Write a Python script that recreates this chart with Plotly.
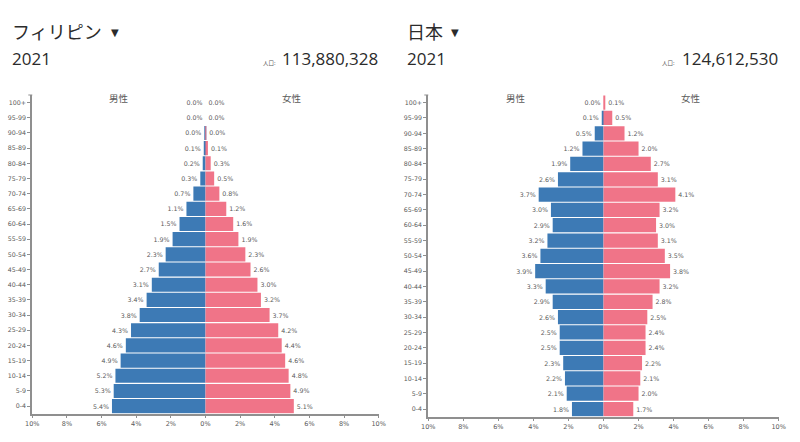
#piramides de poblacion filipinas / japon 2021
import plotly.graph_objs as go

edades = ["100+","95-99","90-94","85-89","80-84","75-79","70-74","65-69","60-64","55-59","50-54",
          "45-49","40-44","35-39","30-34","25-29","20-24","15-19","10-14","5-9","0-4"]

ph_hombres = [0.001,0.001,0.02,0.1,0.16,0.3,0.7,1.1,1.5,1.9,2.3,2.7,3.1,3.4,3.8,4.3,4.6,4.9,5.2,5.3,5.4]
ph_mujeres = [0.001,0.001,0.03,0.14,0.3,0.5,0.8,1.2,1.6,1.9,2.3,2.6,3.0,3.2,3.7,4.2,4.4,4.6,4.8,4.9,5.1]
jp_hombres = [0.001,0.1,0.5,1.2,1.9,2.6,3.7,3.0,2.9,3.2,3.6,3.9,3.3,2.9,2.6,2.5,2.5,2.3,2.2,2.1,1.8]
jp_mujeres = [0.1,0.5,1.2,2.0,2.7,3.1,4.1,3.2,3.0,3.1,3.5,3.8,3.2,2.8,2.5,2.4,2.4,2.2,2.1,2.0,1.7]

xticks = [-10,-8,-6,-4,-2,0,2,4,6,8,10]
xlabels = ["10%","8%","6%","4%","2%","0%","2%","4%","6%","8%","10%"]

AZUL = "#3d7ab5"
ROSA = "#f07488"
GRIS = "#8f8f8f"
TEXTO = "#5a5a5a"
OSCURO = "#2b2b2b"
W, H = 800, 442

def px(x): return x/W
def py(y): return 1-y/H

def barras(valores, signo, color, xa, ya):
  #las filas en 0.0% no dibujan barra, solo la etiqueta
  colores = [color if v >= 0.01 else "rgba(0,0,0,0)" for v in valores]
  return go.Bar(y=edades, x=[signo*v for v in valores], orientation="h", xaxis=xa, yaxis=ya,
    marker=dict(color=colores, line=dict(width=0)),
    text=["%.1f%%" % v for v in valores], textposition="outside", textangle=0,
    constraintext="none", cliponaxis=False, showlegend=False,
    textfont=dict(family="DejaVu Sans", size=6.3, color=TEXTO))

fig = go.Figure()
fig.add_trace(barras(ph_hombres, -1, AZUL, "x", "y"))
fig.add_trace(barras(ph_mujeres, 1, ROSA, "x", "y"))
fig.add_trace(barras(jp_hombres, -1, AZUL, "x2", "y2"))
fig.add_trace(barras(jp_mujeres, 1, ROSA, "x2", "y2"))

def eje_x(izq, der, ya):
  return dict(domain=[px(izq),px(der)], range=[-10,10], anchor=ya, tickvals=xticks, ticktext=xlabels,
    showgrid=False, zeroline=False, showline=True, linecolor=GRIS, linewidth=1.5,
    ticks="outside", ticklen=3, tickcolor=GRIS, tickfont=dict(family="DejaVu Sans", size=6.5, color=TEXTO))

def eje_y(arriba, abajo, xa):
  return dict(domain=[py(abajo),py(arriba)], anchor=xa, categoryorder="array", categoryarray=edades[::-1],
    range=[-0.5,20.5], showgrid=False, zeroline=False, showline=True, linecolor=GRIS, linewidth=2,
    ticks="outside", ticklen=3, tickcolor=GRIS, tickfont=dict(family="DejaVu Sans", size=6.3, color=TEXTO))

fig.update_layout(
  width=W, height=H, margin=dict(l=0,r=0,t=0,b=0), template="none",
  paper_bgcolor="white", plot_bgcolor="white", barmode="overlay", bargap=0.07,
  xaxis=eje_x(32.3,378.7,"y"), yaxis=eje_y(95,413.7,"x"),
  xaxis2=eje_x(428.3,778.7,"y2"), yaxis2=eje_y(95,416.7,"x2"))

def texto(x, y, t, size, family="Open Sans", color=OSCURO, anchor="left"):
  fig.add_annotation(xref="paper", yref="paper", x=px(x), y=py(y), text=t, showarrow=False,
    xanchor=anchor, yanchor="middle", font=dict(family=family, size=size, color=color))

CJK = "Noto Sans CJK JP"
texto(10, 31, "フィリピン", 18, CJK)
texto(109, 33, "▼", 10, "DejaVu Sans")
texto(10, 59, "2021", 17)
texto(278, 63.5, "人口:", 5.5, CJK, TEXTO, "right")
texto(379.5, 59, "113,880,328", 17, anchor="right")

texto(405, 31, "日本", 18, CJK)
texto(449, 33, "▼", 10, "DejaVu Sans")
texto(405, 59, "2021", 17)
texto(677, 63.5, "人口:", 5.5, CJK, TEXTO, "right")
texto(779.5, 59, "124,612,530", 17, anchor="right")

#etiquetas de sexo sobre cada piramide
for xa, ya in [("x","y"),("x2","y2")]:
  for x, t in [(-5,"男性"),(5,"女性")]:
    fig.add_annotation(xref=xa, yref=ya, x=x, y="100+", text=t, showarrow=False, yshift=5,
      font=dict(family=CJK, size=9.5, color=TEXTO))

#marca superior del eje de edades
for izq in [32.3, 428.3]:
  fig.add_shape(type="line", xref="paper", yref="paper", x0=px(izq-4), x1=px(izq), y0=py(95), y1=py(95),
    line=dict(color=GRIS, width=1))

fig.write_html("out.html", config={"displayModeBar": False},
  post_script="document.body.style.margin='0';document.body.style.overflow='hidden';")
